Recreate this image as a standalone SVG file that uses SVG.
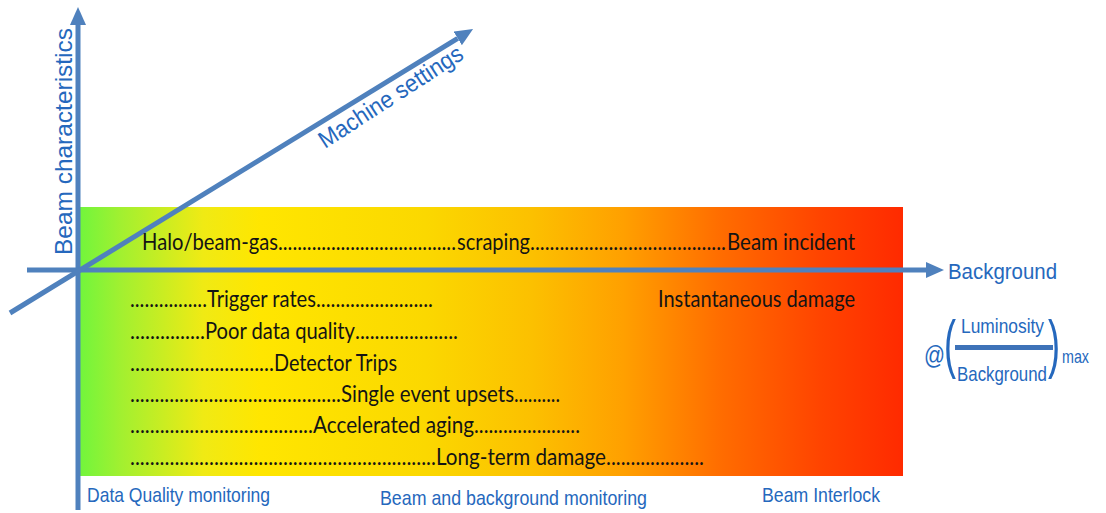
<svg xmlns="http://www.w3.org/2000/svg" width="1106" height="513" viewBox="0 0 1106 513">
  <style>
    .axis { stroke: #4f81bd; stroke-width: 5; fill: none; }
    .lbl { font-family: "Liberation Sans", Arial, sans-serif; fill: #2568bd; }
    .body { font-family: Lato, "Noto Sans", sans-serif; font-size: 23px; fill: #141414; }
  </style>
  <defs>
    <linearGradient id="heat" x1="0" y1="0" x2="1" y2="0">
      <stop offset="0" stop-color="#72f53c"/>
      <stop offset="0.05" stop-color="#a2f030"/>
      <stop offset="0.15" stop-color="#f0ea14"/>
      <stop offset="0.22" stop-color="#ffe600"/>
      <stop offset="0.42" stop-color="#fbd800"/>
      <stop offset="0.55" stop-color="#fcc000"/>
      <stop offset="0.66" stop-color="#ffa000"/>
      <stop offset="0.78" stop-color="#ff6c00"/>
      <stop offset="0.9" stop-color="#ff4400"/>
      <stop offset="1" stop-color="#ff2a00"/>
    </linearGradient>
    <marker id="head" viewBox="0 0 18 16" markerWidth="18" markerHeight="16" refX="0" refY="8" orient="auto" markerUnits="userSpaceOnUse">
      <path d="M0,0 L18,8 L0,16 Z" fill="#4f81bd"/>
    </marker>
  </defs>

  <!-- severity band -->
  <g id="band">
    <rect x="80" y="207" width="823" height="269" fill="url(#heat)"/>
  </g>

  <!-- axes -->
  <g id="connectors">
    <line class="axis" x1="78" y1="510" x2="78" y2="25" marker-end="url(#head)"/>
    <line class="axis" x1="27" y1="270" x2="926" y2="270" marker-end="url(#head)"/>
    <line class="axis" x1="10" y1="313" x2="457.7" y2="38.4" marker-end="url(#head)"/>
  </g>

  <!-- axis titles -->
  <g id="axis-beam">
    <text class="lbl" font-size="24" transform="translate(72,255) rotate(-90)" textLength="227" lengthAdjust="spacingAndGlyphs">Beam characteristics</text>
  </g>
  <g id="axis-machine">
    <text class="lbl" font-size="24" transform="translate(325,149) rotate(-33)" textLength="167" lengthAdjust="spacingAndGlyphs">Machine settings</text>
  </g>
  <g id="axis-background">
    <text class="lbl" font-size="22" x="948" y="279" textLength="109" lengthAdjust="spacingAndGlyphs">Background</text>
  </g>

  <!-- figure of merit -->
  <g id="merit">
    <text class="lbl" font-size="25" x="924" y="364" textLength="21" lengthAdjust="spacingAndGlyphs">@</text>
    <text class="lbl" font-size="64" x="944" y="366" textLength="12" lengthAdjust="spacingAndGlyphs">(</text>
    <text class="lbl" font-size="21" x="961" y="333" textLength="83" lengthAdjust="spacingAndGlyphs">Luminosity</text>
    <rect x="955" y="345" width="98" height="5" fill="#3d72b8"/>
    <text class="lbl" font-size="21" x="957" y="381" textLength="90" lengthAdjust="spacingAndGlyphs">Background</text>
    <text class="lbl" font-size="64" x="1048" y="366" textLength="12" lengthAdjust="spacingAndGlyphs">)</text>
    <text class="lbl" font-size="19" x="1062" y="363" textLength="27" lengthAdjust="spacingAndGlyphs">max</text>
  </g>

  <!-- beam-related sources -->
  <g id="row-sources">
    <text class="body" y="250"><tspan x="142" textLength="136" lengthAdjust="spacingAndGlyphs">Halo/beam-gas</tspan><tspan x="278" textLength="178" lengthAdjust="spacingAndGlyphs">.....................................</tspan><tspan x="457" textLength="73" lengthAdjust="spacingAndGlyphs">scraping</tspan><tspan x="530" textLength="196" lengthAdjust="spacingAndGlyphs">........................................</tspan><tspan x="727" textLength="128" lengthAdjust="spacingAndGlyphs">Beam  incident</tspan></text>
  </g>

  <!-- effects on the detector -->
  <g id="row-trigger">
    <text class="body" y="307"><tspan x="130" textLength="77" lengthAdjust="spacingAndGlyphs">................</tspan><tspan x="207" textLength="109" lengthAdjust="spacingAndGlyphs">Trigger rates</tspan><tspan x="316" textLength="117" lengthAdjust="spacingAndGlyphs">........................</tspan></text>
  </g>
  <g id="row-instantaneous">
    <text class="body" x="658" y="307" textLength="197" lengthAdjust="spacingAndGlyphs">Instantaneous damage</text>
  </g>
  <g id="row-quality">
    <text class="body" y="339"><tspan x="130" textLength="75" lengthAdjust="spacingAndGlyphs">...............</tspan><tspan x="205" textLength="150" lengthAdjust="spacingAndGlyphs">Poor data quality</tspan><tspan x="355" textLength="103" lengthAdjust="spacingAndGlyphs">.....................</tspan></text>
  </g>
  <g id="row-trips">
    <text class="body" y="371"><tspan x="130" textLength="144" lengthAdjust="spacingAndGlyphs">.............................</tspan><tspan x="274" textLength="123" lengthAdjust="spacingAndGlyphs">Detector Trips</tspan></text>
  </g>
  <g id="row-seu">
    <text class="body" y="402"><tspan x="130" textLength="211" lengthAdjust="spacingAndGlyphs">...........................................</tspan><tspan x="341" textLength="173" lengthAdjust="spacingAndGlyphs">Single event upsets</tspan><tspan x="514" textLength="46" lengthAdjust="spacingAndGlyphs">..........</tspan></text>
  </g>
  <g id="row-aging">
    <text class="body" y="433"><tspan x="130" textLength="183" lengthAdjust="spacingAndGlyphs">.....................................</tspan><tspan x="313" textLength="161" lengthAdjust="spacingAndGlyphs">Accelerated aging</tspan><tspan x="474" textLength="106" lengthAdjust="spacingAndGlyphs">......................</tspan></text>
  </g>
  <g id="row-longterm">
    <text class="body" y="465"><tspan x="130" textLength="306" lengthAdjust="spacingAndGlyphs">..............................................................</tspan><tspan x="436" textLength="170" lengthAdjust="spacingAndGlyphs">Long-term damage</tspan><tspan x="606" textLength="98" lengthAdjust="spacingAndGlyphs">....................</tspan></text>
  </g>

  <!-- monitoring systems -->
  <g id="sys-dq">
    <text class="lbl" font-size="21" x="87" y="502" textLength="183" lengthAdjust="spacingAndGlyphs">Data Quality monitoring</text>
  </g>
  <g id="sys-bb">
    <text class="lbl" font-size="21" x="380" y="505" textLength="267" lengthAdjust="spacingAndGlyphs">Beam and background monitoring</text>
  </g>
  <g id="sys-interlock">
    <text class="lbl" font-size="21" x="762" y="502" textLength="118" lengthAdjust="spacingAndGlyphs">Beam Interlock</text>
  </g>
</svg>
